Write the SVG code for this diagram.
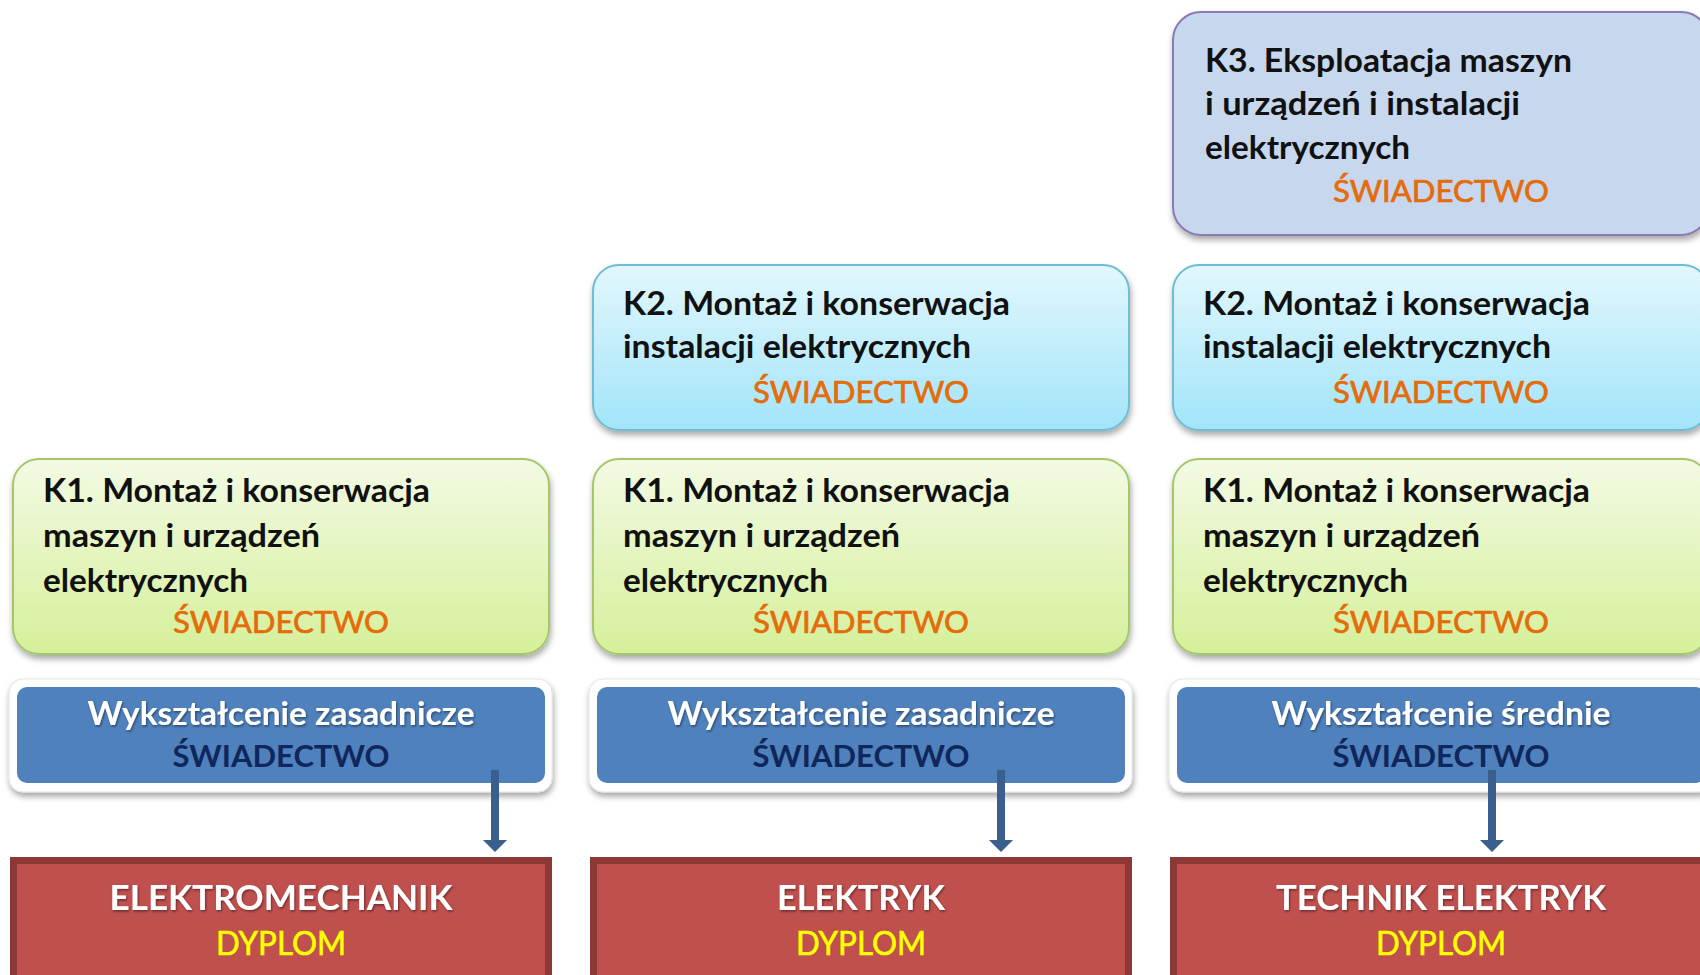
<svg xmlns="http://www.w3.org/2000/svg" width="1700" height="975" viewBox="0 0 1700 975">
<defs>
  <linearGradient id="gGreen" x1="0" y1="0" x2="0" y2="1">
    <stop offset="0" stop-color="#F3FAE4"/>
    <stop offset="1" stop-color="#D5F09A"/>
  </linearGradient>
  <linearGradient id="gCyan" x1="0" y1="0" x2="0" y2="1">
    <stop offset="0" stop-color="#E2F7FD"/>
    <stop offset="1" stop-color="#A2E4F9"/>
  </linearGradient>
  <filter id="shadow" x="-5%" y="-10%" width="110%" height="130%">
    <feDropShadow dx="1" dy="4" stdDeviation="3" flood-color="#000" flood-opacity="0.35"/>
  </filter>
  <filter id="tshadow" x="-5%" y="-20%" width="110%" height="150%">
    <feDropShadow dx="1" dy="1.5" stdDeviation="0.8" flood-color="#000" flood-opacity="0.45"/>
  </filter>
  <style>
    .k1 { fill: url(#gGreen); stroke: #A5C76B; stroke-width: 2; filter: url(#shadow); }
    .k2 { fill: url(#gCyan); stroke: #6EBDD5; stroke-width: 2; filter: url(#shadow); }
    .k3 { fill: #C6D7EE; stroke: #8C7AB5; stroke-width: 2; filter: url(#shadow); }
    .frame { fill: #FFFFFF; stroke: #E4E4E4; stroke-width: 1; filter: url(#shadow); }
    .blue { fill: #4F81BD; }
    .red { fill: #C0504D; stroke: #8C3836; stroke-width: 7; }
    text { font-family: Lato, "Liberation Sans", sans-serif; }
    .t { font-size: 33px; font-weight: 700; fill: #111111; }
    .sw { font-size: 30px; font-weight: 400; fill: #E46C0A; stroke: #E46C0A; stroke-width: 0.7; text-anchor: middle; }
    .wt { font-size: 32px; font-weight: 700; fill: #FFFFFF; text-anchor: middle; filter: url(#tshadow); }
    .nv { font-size: 31px; font-weight: 700; fill: #10275C; text-anchor: middle; }
    .rt { font-size: 35px; font-weight: 700; fill: #FFFFFF; text-anchor: middle; filter: url(#tshadow); }
    .dy { font-size: 32px; font-weight: 400; fill: #FFFF00; stroke: #FFFF00; stroke-width: 0.6; text-anchor: middle; }
    .arrow { fill: #3A5F8E; }
  </style>
</defs>
<rect width="1700" height="975" fill="#FFFFFF"/>

<!-- Column 1 -->
<g id="col1-k1">
  <rect class="k1" x="13" y="459" width="536" height="195" rx="26"/>
  <text class="t" x="43" y="502" textLength="387" lengthAdjust="spacingAndGlyphs">K1. Montaż i konserwacja</text>
  <text class="t" x="43" y="547" textLength="277" lengthAdjust="spacingAndGlyphs">maszyn i urządzeń</text>
  <text class="t" x="43" y="592" textLength="205" lengthAdjust="spacingAndGlyphs">elektrycznych</text>
  <text class="sw" x="281" y="633" textLength="216" lengthAdjust="spacingAndGlyphs">ŚWIADECTWO</text>
</g>
<g id="col1-edu">
  <rect class="frame" x="9" y="679" width="543" height="113" rx="14"/>
  <rect class="blue" x="17" y="687" width="528" height="96" rx="10"/>
  <text class="wt" x="281" y="725" textLength="387" lengthAdjust="spacingAndGlyphs">Wykształcenie zasadnicze</text>
  <text class="nv" x="281" y="767" textLength="217" lengthAdjust="spacingAndGlyphs">ŚWIADECTWO</text>
</g>
<g id="col1-dyplom">
  <rect class="red" x="13.5" y="860.5" width="535" height="130"/>
  <text class="rt" x="281" y="910" textLength="343" lengthAdjust="spacingAndGlyphs">ELEKTROMECHANIK</text>
  <text class="dy" x="281" y="955" textLength="130" lengthAdjust="spacingAndGlyphs">DYPLOM</text>
</g>

<!-- Column 2 -->
<g id="col2-k2">
  <rect class="k2" x="593" y="265" width="536" height="165" rx="26"/>
  <text class="t" x="623" y="315" textLength="387" lengthAdjust="spacingAndGlyphs">K2. Montaż i konserwacja</text>
  <text class="t" x="623" y="358" textLength="348" lengthAdjust="spacingAndGlyphs">instalacji elektrycznych</text>
  <text class="sw" x="861" y="403" textLength="216" lengthAdjust="spacingAndGlyphs">ŚWIADECTWO</text>
</g>
<g id="col2-k1">
  <rect class="k1" x="593" y="459" width="536" height="195" rx="26"/>
  <text class="t" x="623" y="502" textLength="387" lengthAdjust="spacingAndGlyphs">K1. Montaż i konserwacja</text>
  <text class="t" x="623" y="547" textLength="277" lengthAdjust="spacingAndGlyphs">maszyn i urządzeń</text>
  <text class="t" x="623" y="592" textLength="205" lengthAdjust="spacingAndGlyphs">elektrycznych</text>
  <text class="sw" x="861" y="633" textLength="216" lengthAdjust="spacingAndGlyphs">ŚWIADECTWO</text>
</g>
<g id="col2-edu">
  <rect class="frame" x="589" y="679" width="543" height="113" rx="14"/>
  <rect class="blue" x="597" y="687" width="528" height="96" rx="10"/>
  <text class="wt" x="861" y="725" textLength="387" lengthAdjust="spacingAndGlyphs">Wykształcenie zasadnicze</text>
  <text class="nv" x="861" y="767" textLength="217" lengthAdjust="spacingAndGlyphs">ŚWIADECTWO</text>
</g>
<g id="col2-dyplom">
  <rect class="red" x="593.5" y="860.5" width="535" height="130"/>
  <text class="rt" x="861" y="910" textLength="168" lengthAdjust="spacingAndGlyphs">ELEKTRYK</text>
  <text class="dy" x="861" y="955" textLength="130" lengthAdjust="spacingAndGlyphs">DYPLOM</text>
</g>

<!-- Column 3 -->
<g id="col3-k3">
  <rect class="k3" x="1173" y="12" width="536" height="223" rx="28"/>
  <text class="t" x="1205" y="72" textLength="367" lengthAdjust="spacingAndGlyphs">K3. Eksploatacja maszyn</text>
  <text class="t" x="1205" y="115" textLength="315" lengthAdjust="spacingAndGlyphs">i urządzeń i instalacji</text>
  <text class="t" x="1205" y="159" textLength="205" lengthAdjust="spacingAndGlyphs">elektrycznych</text>
  <text class="sw" x="1441" y="202" textLength="216" lengthAdjust="spacingAndGlyphs">ŚWIADECTWO</text>
</g>
<g id="col3-k2">
  <rect class="k2" x="1173" y="265" width="536" height="165" rx="26"/>
  <text class="t" x="1203" y="315" textLength="387" lengthAdjust="spacingAndGlyphs">K2. Montaż i konserwacja</text>
  <text class="t" x="1203" y="358" textLength="348" lengthAdjust="spacingAndGlyphs">instalacji elektrycznych</text>
  <text class="sw" x="1441" y="403" textLength="216" lengthAdjust="spacingAndGlyphs">ŚWIADECTWO</text>
</g>
<g id="col3-k1">
  <rect class="k1" x="1173" y="459" width="536" height="195" rx="26"/>
  <text class="t" x="1203" y="502" textLength="387" lengthAdjust="spacingAndGlyphs">K1. Montaż i konserwacja</text>
  <text class="t" x="1203" y="547" textLength="277" lengthAdjust="spacingAndGlyphs">maszyn i urządzeń</text>
  <text class="t" x="1203" y="592" textLength="205" lengthAdjust="spacingAndGlyphs">elektrycznych</text>
  <text class="sw" x="1441" y="633" textLength="216" lengthAdjust="spacingAndGlyphs">ŚWIADECTWO</text>
</g>
<g id="col3-edu">
  <rect class="frame" x="1169" y="679" width="543" height="113" rx="14"/>
  <rect class="blue" x="1177" y="687" width="528" height="96" rx="10"/>
  <text class="wt" x="1441" y="725" textLength="339" lengthAdjust="spacingAndGlyphs">Wykształcenie średnie</text>
  <text class="nv" x="1441" y="767" textLength="217" lengthAdjust="spacingAndGlyphs">ŚWIADECTWO</text>
</g>
<g id="col3-dyplom">
  <rect class="red" x="1173.5" y="860.5" width="535" height="130"/>
  <text class="rt" x="1441" y="910" textLength="330" lengthAdjust="spacingAndGlyphs">TECHNIK ELEKTRYK</text>
  <text class="dy" x="1441" y="955" textLength="130" lengthAdjust="spacingAndGlyphs">DYPLOM</text>
</g>

<!-- Connectors -->
<g id="connectors">
  <path class="arrow" d="M491 770 H499 V840 H507 L495 852 L483 840 H491 Z"/>
  <path class="arrow" d="M997 770 H1005 V840 H1013 L1001 852 L989 840 H997 Z"/>
  <path class="arrow" d="M1488 770 H1496 V840 H1504 L1492 852 L1480 840 H1488 Z"/>
</g>
</svg>
